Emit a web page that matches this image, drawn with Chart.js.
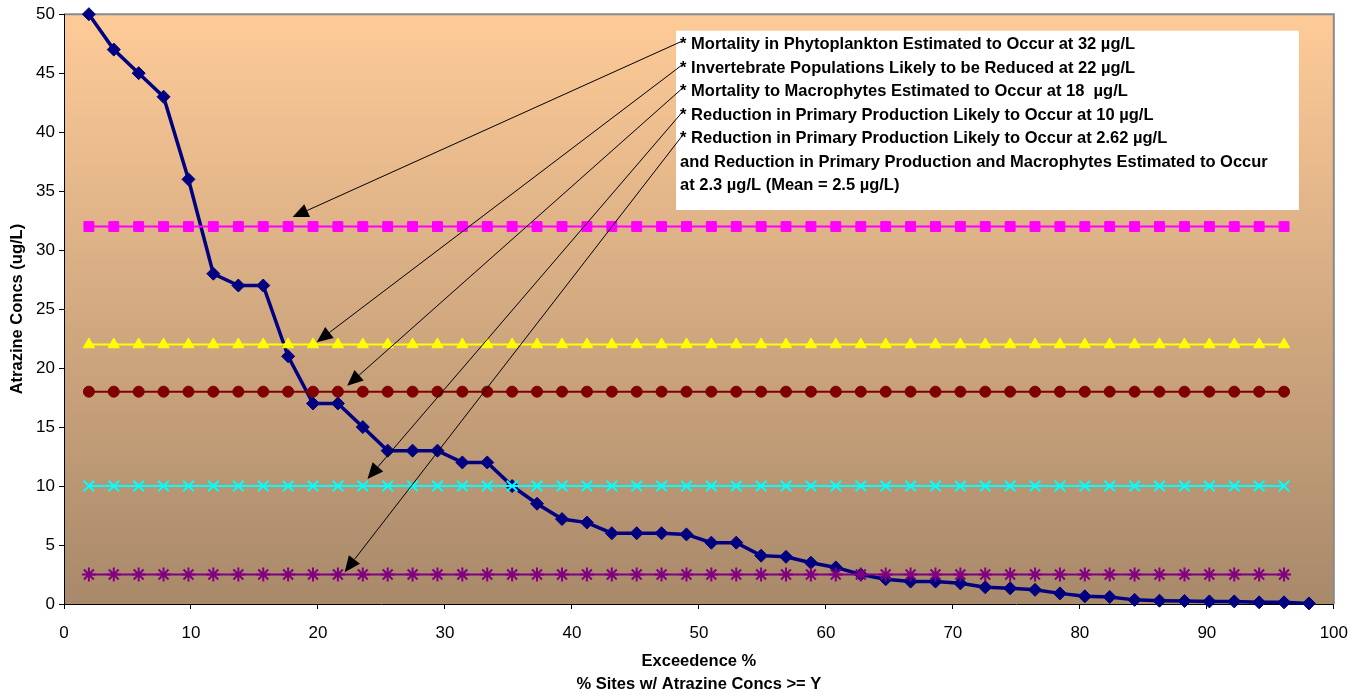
<!DOCTYPE html>
<html>
<head>
<meta charset="utf-8">
<title>Atrazine exceedence</title>
<script src="https://cdn.jsdelivr.net/npm/chart.js@4/dist/chart.umd.min.js"></script>
<style>
  html, body { margin: 0; padding: 0; background: #ffffff; }
  #wrap { width: 1362px; height: 696px; }
</style>
</head>
<body>
<div id="wrap"><canvas id="chart" width="1362" height="696"></canvas></div>
<script>
// Exceedence (% of sites with concentration >= Y) for each ranked sample
const exceedence = [
  1.96, 3.92, 5.88, 7.84, 9.80, 11.76, 13.73, 15.69, 17.65, 19.61,
  21.57, 23.53, 25.49, 27.45, 29.41, 31.37, 33.33, 35.29, 37.25, 39.22,
  41.18, 43.14, 45.10, 47.06, 49.02, 50.98, 52.94, 54.90, 56.86, 58.82,
  60.78, 62.75, 64.71, 66.67, 68.63, 70.59, 72.55, 74.51, 76.47, 78.43,
  80.39, 82.35, 84.31, 86.27, 88.24, 90.20, 92.16, 94.12, 96.08, 98.04
];

// Atrazine concentrations (ug/L), ranked high to low
const atrazine = [
  50, 47, 45, 43, 36, 28, 27, 27, 21, 17,
  17, 15, 13, 13, 13, 12, 12, 10, 8.5, 7.2,
  6.9, 6.0, 6.0, 6.0, 5.9, 5.2, 5.2, 4.1, 4.0, 3.5,
  3.1, 2.5, 2.1, 1.9, 1.9, 1.75, 1.42, 1.33, 1.2, 0.9,
  0.65, 0.6, 0.35, 0.28, 0.25, 0.22, 0.22, 0.14, 0.14, 0.05
];

// Effect thresholds (ug/L)
const thresholdNames = ['Phytoplankton', 'Invertebrates', 'Macrophytes', 'Primary production', 'Primary production (mean)'];
const thresholdValues = [32, 22, 18, 10, 2.5];
const thresholdSites = exceedence.slice(0, 49);

// Note lines in the text box
const noteLines = [
  '* Mortality in Phytoplankton Estimated to Occur at 32 \u00b5g/L',
  '* Invertebrate Populations Likely to be Reduced at 22 \u00b5g/L',
  '* Mortality to Macrophytes Estimated to Occur at 18  \u00b5g/L',
  '* Reduction in Primary Production Likely to Occur at 10 \u00b5g/L',
  '* Reduction in Primary Production Likely to Occur at 2.62 \u00b5g/L',
  'and Reduction in Primary Production and Macrophytes Estimated to Occur',
  'at 2.3 \u00b5g/L (Mean = 2.5 \u00b5g/L)'
];

// Arrow tips (x %, y ug/L), one per starred note
const arrowTipX = [18.0, 19.9, 22.3, 23.9, 22.1];
const arrowTipY = [32.8, 22.2, 18.5, 10.6, 2.7];

const xTicks = [0, 10, 20, 30, 40, 50, 60, 70, 80, 90, 100];
const yTicks = [0, 5, 10, 15, 20, 25, 30, 35, 40, 45, 50];

const FONT = "'Liberation Sans', Arial, sans-serif";

const thresholdStyles = [
  { color: '#FF00FF', pointStyle: 'rect', radius: 7 },
  { color: '#FFFF00', pointStyle: 'triangle', radius: 6.5 },
  { color: '#800000', pointStyle: 'circle', radius: 5.5 },
  { color: '#00FFFF', pointStyle: 'crossRot', radius: 7.5 },
  { color: '#800080', pointStyle: 'star', radius: 7 }
];

const datasets = [{
  label: 'Atrazine',
  data: exceedence.map((x, i) => ({ x: x, y: atrazine[i] })),
  borderColor: '#000080',
  backgroundColor: '#000080',
  borderWidth: 3.5,
  pointStyle: 'rectRot',
  pointRadius: 6.5,
  pointBorderWidth: 1,
  pointBackgroundColor: '#000080',
  pointBorderColor: '#000080',
  order: 10,
  clip: false
}];

thresholdValues.forEach((v, k) => {
  const s = thresholdStyles[k];
  datasets.push({
    label: thresholdNames[k],
    data: thresholdSites.map(x => ({ x: x, y: v })),
    borderColor: s.color,
    backgroundColor: s.color,
    borderWidth: 2,
    pointStyle: s.pointStyle,
    pointRadius: s.radius,
    pointBorderWidth: (s.pointStyle === 'crossRot' || s.pointStyle === 'star') ? 2 : 1,
    pointBackgroundColor: s.color,
    pointBorderColor: s.color,
    order: 5 - k,
    clip: false
  });
});

// Shaded plot area with grey frame on top and right
const plotBackground = {
  id: 'plotBackground',
  beforeDraw(chart) {
    const { ctx, chartArea: a } = chart;
    ctx.save();
    const g = ctx.createLinearGradient(0, a.top, 0, a.bottom);
    g.addColorStop(0, '#FECB98');
    g.addColorStop(1, '#A8896A');
    ctx.fillStyle = g;
    ctx.fillRect(a.left, a.top, a.right - a.left, a.bottom - a.top);
    ctx.strokeStyle = '#8a8a8a';
    ctx.lineWidth = 2;
    ctx.beginPath();
    ctx.moveTo(a.left, a.top);
    ctx.lineTo(a.right, a.top);
    ctx.lineTo(a.right, a.bottom);
    ctx.stroke();
    ctx.restore();
  }
};

// Text box of effect notes and arrows to the threshold lines
const notes = {
  id: 'notes',
  afterDraw(chart) {
    const { ctx } = chart;
    const xs = chart.scales.x, ys = chart.scales.y;
    const bx0 = xs.getPixelForValue(48.2), bx1 = xs.getPixelForValue(97.25);
    const by0 = ys.getPixelForValue(48.6), by1 = ys.getPixelForValue(33.4);
    ctx.save();
    ctx.fillStyle = '#ffffff';
    ctx.fillRect(bx0, by0, bx1 - bx0, by1 - by0);

    ctx.fillStyle = '#000000';
    ctx.font = 'bold 16.5px ' + FONT;
    ctx.textBaseline = 'middle';
    ctx.textAlign = 'left';
    const lineY0 = by0 + 14, lineStep = 23.5;
    noteLines.forEach((t, i) => {
      ctx.fillText(t, bx0 + 4, lineY0 + i * lineStep);
    });

    // arrows
    ctx.strokeStyle = '#000000';
    ctx.lineWidth = 1;
    arrowTipX.forEach((tx, i) => {
      const x1 = xs.getPixelForValue(tx), y1 = ys.getPixelForValue(arrowTipY[i]);
      const x0 = bx0 + 7, y0 = lineY0 + i * lineStep - 4;
      const ang = Math.atan2(y1 - y0, x1 - x0);
      const L = 16, W = 7;
      const bx = x1 - L * Math.cos(ang), byy = y1 - L * Math.sin(ang);
      ctx.beginPath();
      ctx.moveTo(x0, y0);
      ctx.lineTo(bx, byy);
      ctx.stroke();
      ctx.beginPath();
      ctx.moveTo(x1, y1);
      ctx.lineTo(bx + W * Math.sin(ang), byy - W * Math.cos(ang));
      ctx.lineTo(bx - W * Math.sin(ang), byy + W * Math.cos(ang));
      ctx.closePath();
      ctx.fill();
    });
    ctx.restore();
  }
};

new Chart(document.getElementById('chart'), {
  type: 'line',
  data: { datasets: datasets },
  plugins: [plotBackground, notes],
  options: {
    responsive: false,
    animation: false,
    devicePixelRatio: 1,
    layout: { padding: { top: 14, right: 28, left: 0, bottom: 0 } },
    plugins: { legend: { display: false }, tooltip: { enabled: false } },
    scales: {
      x: {
        type: 'linear',
        min: 0, max: 100,
        afterBuildTicks(scale) { scale.ticks = xTicks.map(v => ({ value: v })); },
        afterFit(scale) { scale.height = 92; },
        ticks: { color: '#000', font: { family: FONT, size: 17 }, padding: 14, maxRotation: 0 },
        grid: { drawOnChartArea: false, drawTicks: true, tickLength: 5, color: '#000', lineWidth: 1 },
        border: { display: true, color: '#000', width: 1 },
        title: {
          display: true,
          text: ['Exceedence %', '% Sites w/ Atrazine Concs >= Y'],
          color: '#000',
          font: { family: FONT, size: 16.5, weight: 'bold', lineHeight: '23px' },
          padding: { top: 0, bottom: 0.5 }
        }
      },
      y: {
        type: 'linear',
        min: 0, max: 50,
        afterBuildTicks(scale) { scale.ticks = yTicks.map(v => ({ value: v })); },
        afterFit(scale) { scale.width = 64; },
        ticks: { color: '#000', font: { family: FONT, size: 17 }, padding: 4 },
        grid: { drawOnChartArea: false, drawTicks: true, tickLength: 5, color: '#000', lineWidth: 1 },
        border: { display: true, color: '#000', width: 1 },
        title: {
          display: true,
          text: 'Atrazine Concs (ug/L)',
          color: '#000',
          font: { family: FONT, size: 16.5, weight: 'bold', lineHeight: '20px' },
          padding: { top: 7, bottom: 0 }
        }
      }
    }
  }
});
</script>
</body>
</html>
